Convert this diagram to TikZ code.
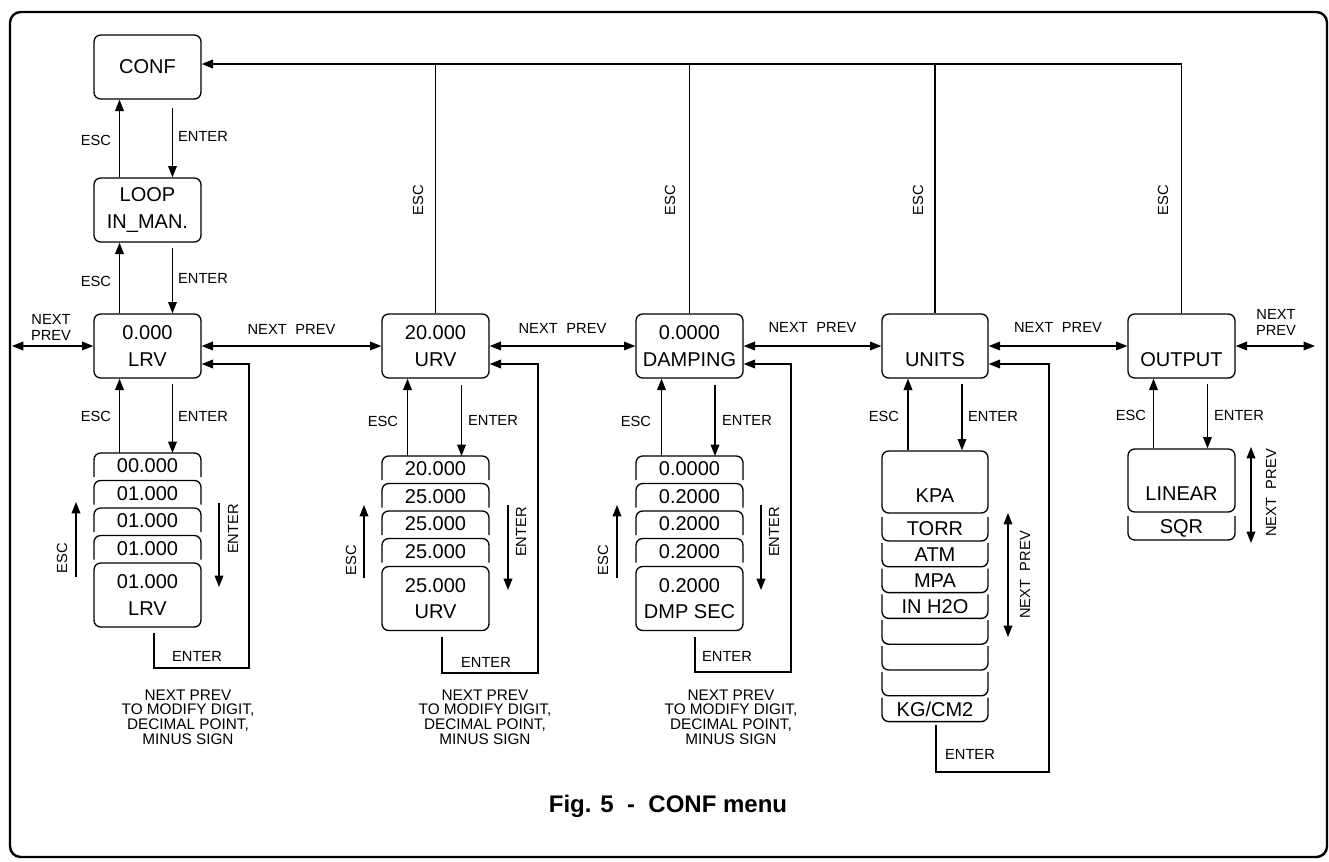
\documentclass[tikz,border=0pt]{standalone}
\usepackage{fontspec}
\setmainfont{Liberation Sans}
\usetikzlibrary{arrows.meta,calc}
\newcommand{\dslot}[5]{%
  \draw[rounded corners=5pt] (#1,#3+24) -- (#1,#3) -- (#2,#3) -- (#2,#3+24);
  \node[btxt] (#4) at ({(#1+#2)/2},#3+13) {#5};}
\newcommand{\uslot}[5]{%
  \draw[rounded corners=5pt] (#1,#3) -- (#1,#3+24) -- (#2,#3+24) -- (#2,#3);
  \node[btxt] (#4) at ({(#1+#2)/2},#3+12) {#5};}
\begin{document}
\begin{tikzpicture}[x=0.75pt,y=-0.75pt,line width=1pt,
  box/.style={draw, rounded corners=5pt, minimum width=80.25pt, minimum height=48pt,
    inner sep=0pt, align=center, font=\fontsize{15}{20}\selectfont},
  btxt/.style={inner sep=0pt, font=\fontsize{15}{18}\selectfont},
  lbl/.style={inner sep=0pt, font=\fontsize{11}{12}\selectfont, align=center},
  note/.style={inner sep=0pt, font=\fontsize{11.5}{11}\selectfont, align=center},
  arr/.style={-{Triangle[length=8.5pt,width=6.5pt]}},
  dbl/.style={{Triangle[length=8.5pt,width=6.5pt]}-{Triangle[length=8.5pt,width=6.5pt]}}]
\useasboundingbox (0,0) rectangle (1329,861);
\draw[line width=1.8pt, rounded corners=8pt] (10,12) rectangle (1327,857);

% ---------- main boxes ----------
\node[box] (conf) at (147.5,67) {CONF};
\node[box] (loop) at (147.5,210) {LOOP\\IN\_MAN.};
\node[box] (lrv) at (147.5,346) {0.000\\LRV};
\node[box] (urv) at (435.5,346) {20.000\\URV};
\node[box] (damp) at (689.5,346) {0.0000\\DAMPING};
\node[box, minimum width=79.5pt] (units) at (935,346) {\phantom{0}\\UNITS};
\node[box] (output) at (1181.5,346) {\phantom{0}\\OUTPUT};

% ---------- top return line ----------
\coordinate (topy) at ($(conf.east)+(0,-3)$);
\draw[arr] (output.north) |- (topy);
\draw (urv.north) -- (urv.north |- topy);
\draw (damp.north) -- (damp.north |- topy);
\draw (units.north) -- (units.north |- topy);
\node[lbl, rotate=90] (esct1) at (418,200) {ESC};
\node[lbl, rotate=90] (esct2) at (670,200) {ESC};
\node[lbl, rotate=90] (esct3) at (918,200) {ESC};
\node[lbl, rotate=90] (esct4) at (1163,200) {ESC};

% ---------- CONF / LOOP / LRV ----------
\draw[arr] ($(loop.north)+(-28,0)$) -- ($(conf.south)+(-28,0)$);
\draw[arr] ($(conf.south)+(25,8)$) -- ($(loop.north)+(25,0)$);
\node[lbl] (esc1) at (96,140) {ESC};
\node[lbl] (ent1) at (203,136) {ENTER};
\draw[arr] ($(lrv.north)+(-28,0)$) -- ($(loop.south)+(-28,0)$);
\draw[arr] ($(loop.south)+(25,5)$) -- ($(lrv.north)+(25,0)$);
\node[lbl] (esc2) at (96,281) {ESC};
\node[lbl] (ent2) at (203,278) {ENTER};

% ---------- horizontal NEXT PREV ----------
\coordinate (lend) at (12,346);
\draw[dbl] (lend) -- (lrv.west);
\node[lbl] (np0) at (51,327) {NEXT\\PREV};
\draw[dbl] (lrv.east) -- node[lbl, above=8pt] (np1) {NEXT\hspace{6.5pt}PREV} (urv.west);
\draw[dbl] (urv.east) -- node[lbl, above=9pt] (np2) {NEXT\hspace{6.5pt}PREV} (damp.west);
\draw[dbl] (damp.east) -- node[lbl, above=10pt] (np3) {NEXT\hspace{6.5pt}PREV} (units.west);
\draw[dbl] (units.east) -- node[lbl, above=10pt] (np4) {NEXT\hspace{6.5pt}PREV} (output.west);
\coordinate (rend) at (1315,346);
\draw[dbl] (output.east) -- (rend);
\node[lbl] (np5) at (1276,322) {NEXT\\PREV};

% ---------- LRV stack ----------
\coordinate (lrvT) at (147.5,453);
\draw[arr] ($(lrvT)+(-28,0)$) -- ($(lrv.south)+(-28,0)$);
\draw[arr] ($(lrv.south)+(25,5)$) -- ($(lrvT)+(25,0)$);
\node[lbl] (esc3) at (96,416) {ESC};
\node[lbl] (ent3) at (203,416) {ENTER};
\dslot{94}{201}{453}{l1}{00.000}
\dslot{94}{201}{480.5}{l2}{01.000}
\dslot{94}{201}{508}{l3}{01.000}
\dslot{94}{201}{535.5}{l4}{01.000}
\node[box] (lrvE) at (147.5,595) {01.000\\LRV};
\coordinate (la1) at (76,577); \coordinate (la2) at (76,502);
\draw[arr] (la1) -- (la2);
\node[lbl, rotate=90] (esc4) at (62,558) {ESC};
\coordinate (lb1) at (219,503); \coordinate (lb2) at (219,587);
\draw[arr] (lb1) -- (lb2);
\node[lbl, rotate=90] (ent4) at (233,529) {ENTER};
\draw[arr] ($(lrvE.south)+(6.5,5)$) |- (249,668) |- ($(lrv.east)+(0,18)$);
\node[lbl] (ent5) at (197,656) {ENTER};
\node[note] (n1) at (188,717) {NEXT PREV\\TO MODIFY DIGIT,\\DECIMAL POINT,\\MINUS SIGN};

% ---------- URV stack ----------
\coordinate (urvT) at (435.5,456);
\draw[arr] ($(urvT)+(-28,0)$) -- ($(urv.south)+(-28,0)$);
\draw[arr] ($(urv.south)+(26,6)$) -- ($(urvT)+(26,0)$);
\node[lbl] (esc5) at (383,421) {ESC};
\node[lbl] (ent6) at (493,420) {ENTER};
\dslot{382}{489}{456}{u1}{20.000}
\dslot{382}{489}{483.5}{u2}{25.000}
\dslot{382}{489}{511}{u3}{25.000}
\dslot{382}{489}{538.5}{u4}{25.000}
\node[box] (urvE) at (435.5,598.5) {25.000\\URV};
\coordinate (ua1) at (364,578); \coordinate (ua2) at (364,505);
\draw[arr] (ua1) -- (ua2);
\node[lbl, rotate=90] (esc6) at (351,560) {ESC};
\coordinate (ub1) at (508,505); \coordinate (ub2) at (508,590);
\draw[arr] (ub1) -- (ub2);
\node[lbl, rotate=90] (ent7) at (521,532) {ENTER};
\draw[arr] ($(urvE.south)+(6.5,6)$) |- (538,673) |- ($(urv.east)+(0,18)$);
\node[lbl] (ent8) at (486,662) {ENTER};
\node[note] (n2) at (485,717) {NEXT PREV\\TO MODIFY DIGIT,\\DECIMAL POINT,\\MINUS SIGN};

% ---------- DAMPING stack ----------
\coordinate (dampT) at (689.5,456);
\draw[arr] ($(dampT)+(-28,0)$) -- ($(damp.south)+(-28,0)$);
\draw[arr] ($(damp.south)+(25.5,6)$) -- ($(dampT)+(25.5,0)$);
\node[lbl] (esc7) at (636,421) {ESC};
\node[lbl] (ent9) at (747,420) {ENTER};
\dslot{636}{743}{456}{d1}{0.0000}
\dslot{636}{743}{483.5}{d2}{0.2000}
\dslot{636}{743}{511}{d3}{0.2000}
\dslot{636}{743}{538.5}{d4}{0.2000}
\node[box] (dampE) at (689.5,598.5) {0.2000\\DMP SEC};
\coordinate (da1) at (617,578); \coordinate (da2) at (617,505);
\draw[arr] (da1) -- (da2);
\node[lbl, rotate=90] (esc8) at (603,560) {ESC};
\coordinate (db1) at (761,505); \coordinate (db2) at (761,590);
\draw[arr] (db1) -- (db2);
\node[lbl, rotate=90] (ent10) at (774,532) {ENTER};
\draw[arr] ($(dampE.south)+(5.5,6)$) |- (791,672) |- ($(damp.east)+(0,18)$);
\node[lbl] (ent11) at (727,656) {ENTER};
\node[note] (n3) at (731,717) {NEXT PREV\\TO MODIFY DIGIT,\\DECIMAL POINT,\\MINUS SIGN};

% ---------- UNITS stack ----------
\node[box, minimum width=79.5pt, minimum height=46.5pt] (kpa) at (935,482) {\phantom{0}\\KPA};
\draw[arr] ($(kpa.north)+(-27,0)$) -- ($(units.south)+(-27,0)$);
\draw[arr] ($(units.south)+(27,5)$) -- ($(kpa.north)+(27,0)$);
\node[lbl] (esc9) at (884,416) {ESC};
\node[lbl] (ent12) at (993,416) {ENTER};
\uslot{882}{988}{517}{s1}{TORR}
\uslot{882}{988}{542.8}{s2}{ATM}
\uslot{882}{988}{568.6}{s3}{MPA}
\uslot{882}{988}{594.4}{s4}{IN H2O}
\uslot{882}{988}{620.2}{s5}{}
\uslot{882}{988}{646}{s6}{}
\uslot{882}{988}{671.8}{s7}{}
\uslot{882}{988}{697.6}{s8}{KG/CM2}
\coordinate (ka1) at (1008,513); \coordinate (ka2) at (1008,637);
\draw[dbl] (ka1) -- (ka2);
\node[lbl, rotate=90] (np6) at (1025,575) {NEXT\hspace{6.5pt}PREV};
\draw[arr] ($(s8.south)+(1,7)$) |- (1049,772) |- ($(units.east)+(0,18)$);
\node[lbl] (ent13) at (970,754) {ENTER};

% ---------- OUTPUT stack ----------
\node[box, minimum height=47.25pt] (linear) at (1181.5,480.5) {\phantom{0}\\LINEAR};
\draw[arr] ($(linear.north)+(-28,0)$) -- ($(output.south)+(-28,0)$);
\draw[arr] ($(output.south)+(26,5)$) -- ($(linear.north)+(26,0)$);
\node[lbl] (esc10) at (1131,415) {ESC};
\node[lbl] (ent14) at (1239,415) {ENTER};
\uslot{1128}{1235}{516}{q1}{SQR}
\coordinate (oa1) at (1251,447); \coordinate (oa2) at (1251,543);
\draw[dbl] (oa1) -- (oa2);
\node[lbl, rotate=90] (np7) at (1271,493) {NEXT\hspace{6.5pt}PREV};

% ---------- caption ----------
\node[inner sep=0pt, font=\fontsize{18}{20}\selectfont\bfseries] (cap) at (668,806)
  {Fig. 5\hspace{10pt}-\hspace{10pt}CONF menu};
\end{tikzpicture}
\end{document}
